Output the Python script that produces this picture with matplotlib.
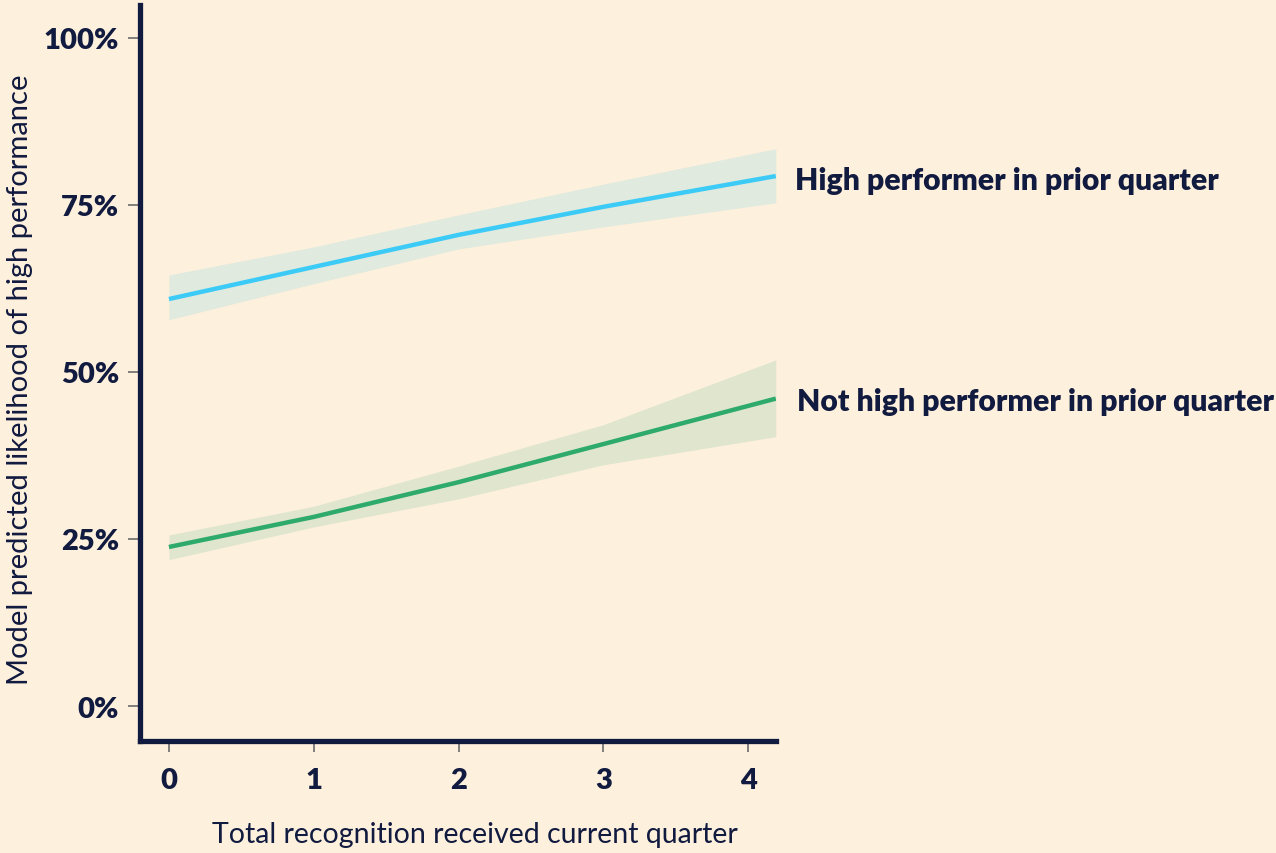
import matplotlib
matplotlib.use("Agg")
import matplotlib.pyplot as plt
import numpy as np

# Data
x_vals = [0, 1, 2, 3, 4.19]
high_line = [60.9, 65.7, 70.5, 74.7, 79.3]
high_upper = [64.5, 68.7, 73.5, 78.1, 83.4]
high_lower = [57.8, 63.2, 68.4, 71.7, 75.3]
low_line = [23.8, 28.3, 33.5, 39.2, 46.0]
low_upper = [25.6, 29.9, 35.9, 42.1, 51.8]
low_lower = [21.9, 26.8, 31.0, 36.1, 40.3]
x_ticks = [0, 1, 2, 3, 4]
y_ticks = [0, 25, 50, 75, 100]
y_tick_labels = ["0%", "25%", "50%", "75%", "100%"]
series_labels = ["High performer in prior quarter", "Not high performer in prior quarter"]

BG = "#fdf0dd"
NAVY = "#111a3f"
BLUE = "#3ccbf7"
GREEN = "#2eaa6c"
BAND_HIGH = "#e0eade"
BAND_LOW = "#e0e6cd"

plt.rcParams['font.family'] = ['Lato', 'DejaVu Sans']

fig = plt.figure(figsize=(12.76, 8.54), dpi=100, facecolor=BG)
ax = fig.add_axes([0.1097, 0.1311, 0.608 - 0.1097, 0.993 - 0.1311])
ax.set_facecolor(BG)

ax.fill_between(x_vals, high_lower, high_upper, color=BAND_HIGH, lw=0)
ax.fill_between(x_vals, low_lower, low_upper, color=BAND_LOW, lw=0)
ax.plot(x_vals, high_line, color=BLUE, lw=3.2, solid_capstyle='butt')
ax.plot(x_vals, low_line, color=GREEN, lw=3.2, solid_capstyle='butt')

ax.set_xlim(-0.2, 4.19)
ax.set_ylim(-5.24, 104.9)

for s in ['top', 'right']:
    ax.spines[s].set_visible(False)
for s in ['left', 'bottom']:
    ax.spines[s].set_color(NAVY)
    ax.spines[s].set_linewidth(3.8)

ax.set_xticks(x_ticks)
ax.set_xticklabels([str(t) for t in x_ticks])
ax.set_yticks(y_ticks)
ax.set_yticklabels(y_tick_labels)
ax.tick_params(axis='y', length=9, width=1.2, color='#6b6b6b', pad=6,
               labelsize=21, labelcolor=NAVY)
ax.tick_params(axis='x', length=8, width=1.2, color='#6b6b6b', pad=11,
               labelsize=21, labelcolor=NAVY)
for lab in ax.get_xticklabels() + ax.get_yticklabels():
    lab.set_fontweight('heavy')

fig.text(475 / 1276, 1 - 835 / 854, "Total recognition received current quarter",
         fontsize=20.5, color=NAVY, fontweight='normal', ha='center', va='center')
fig.text(20 / 1276, 1 - 380 / 854, "Model predicted likelihood of high performance",
         fontsize=21, color=NAVY, fontweight='normal', ha='center', va='center',
         rotation=90)

ax.text(4.19 + 0.13, high_line[-1] - 0.6, series_labels[0], fontsize=21.7, fontweight='heavy',
        color=NAVY, va='center', ha='left', clip_on=False)
ax.text(4.19 + 0.145, low_line[-1] - 0.3, series_labels[1], fontsize=21.7, fontweight='heavy',
        color=NAVY, va='center', ha='left', clip_on=False)

fig.savefig("out.png", dpi=100, facecolor=BG)
